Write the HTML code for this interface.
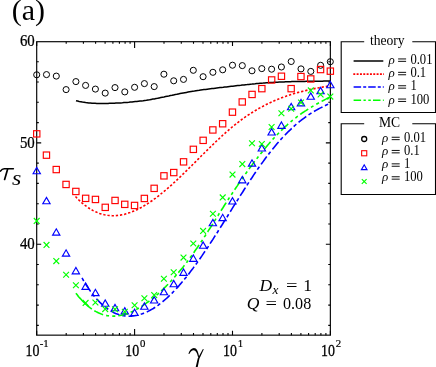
<!DOCTYPE html>
<html><head><meta charset="utf-8"><title>fig</title>
<style>html,body{margin:0;padding:0;background:#fff;}svg{display:block;}text{font-family:"Liberation Serif",serif;fill:#000;}.i{font-style:italic;}</style>
</head><body>
<svg width="436" height="367" viewBox="0 0 436 367">
<rect x="36.7" y="41.7" width="293.65" height="293.45" fill="none" stroke="#000" stroke-width="1.15"/>
<path d="M36.7,335.15 v-4.3 M36.7,41.7 v4.3 M66.2,335.15 v-2.1 M66.2,41.7 v2.1 M83.4,335.15 v-2.1 M83.4,41.7 v2.1 M95.6,335.15 v-2.1 M95.6,41.7 v2.1 M105.1,335.15 v-2.1 M105.1,41.7 v2.1 M112.9,335.15 v-2.1 M112.9,41.7 v2.1 M119.4,335.15 v-2.1 M119.4,41.7 v2.1 M125.1,335.15 v-2.1 M125.1,41.7 v2.1 M130.1,335.15 v-2.1 M130.1,41.7 v2.1 M134.6,335.15 v-6.2 M134.6,41.7 v6.2 M164.0,335.15 v-2.1 M164.0,41.7 v2.1 M181.3,335.15 v-2.1 M181.3,41.7 v2.1 M193.5,335.15 v-2.1 M193.5,41.7 v2.1 M203.0,335.15 v-2.1 M203.0,41.7 v2.1 M210.8,335.15 v-2.1 M210.8,41.7 v2.1 M217.3,335.15 v-2.1 M217.3,41.7 v2.1 M223.0,335.15 v-2.1 M223.0,41.7 v2.1 M228.0,335.15 v-2.1 M228.0,41.7 v2.1 M232.5,335.15 v-4.3 M232.5,41.7 v4.3 M261.9,335.15 v-2.1 M261.9,41.7 v2.1 M279.2,335.15 v-2.1 M279.2,41.7 v2.1 M291.4,335.15 v-2.1 M291.4,41.7 v2.1 M300.9,335.15 v-2.1 M300.9,41.7 v2.1 M308.6,335.15 v-2.1 M308.6,41.7 v2.1 M315.2,335.15 v-2.1 M315.2,41.7 v2.1 M320.9,335.15 v-2.1 M320.9,41.7 v2.1 M325.9,335.15 v-2.1 M325.9,41.7 v2.1 M330.4,335.15 v-4.3 M330.4,41.7 v4.3 M36.7,325.4 h2.1 M330.35,325.4 h-2.1 M36.7,305.1 h2.1 M330.35,305.1 h-2.1 M36.7,284.8 h2.1 M330.35,284.8 h-2.1 M36.7,264.5 h2.1 M330.35,264.5 h-2.1 M36.7,244.2 h4.5 M330.35,244.2 h-4.5 M36.7,224.0 h2.1 M330.35,224.0 h-2.1 M36.7,203.7 h2.1 M330.35,203.7 h-2.1 M36.7,183.4 h2.1 M330.35,183.4 h-2.1 M36.7,163.1 h2.1 M330.35,163.1 h-2.1 M36.7,142.9 h4.5 M330.35,142.9 h-4.5 M36.7,122.6 h2.1 M330.35,122.6 h-2.1 M36.7,102.3 h2.1 M330.35,102.3 h-2.1 M36.7,82.0 h2.1 M330.35,82.0 h-2.1 M36.7,61.8 h2.1 M330.35,61.8 h-2.1" stroke="#000" stroke-width="1.1" fill="none"/>
<g fill="none" stroke-width="1.6" stroke-linejoin="round">
<path d="M76.0,100.7 L77.6,101.1 L79.2,101.5 L80.8,101.8 L82.4,102.1 L84.0,102.3 L85.6,102.6 L87.2,102.7 L88.8,102.9 L90.4,103.0 L92.0,103.2 L93.6,103.2 L95.2,103.3 L96.8,103.4 L98.4,103.4 L100.0,103.4 L101.6,103.4 L103.2,103.4 L104.8,103.4 L106.4,103.4 L108.0,103.4 L109.6,103.3 L111.2,103.3 L112.8,103.2 L114.4,103.2 L116.0,103.1 L117.6,103.0 L119.2,102.9 L120.8,102.9 L122.4,102.8 L124.0,102.6 L125.6,102.5 L127.2,102.4 L128.8,102.3 L130.4,102.1 L132.0,102.0 L133.6,101.8 L135.2,101.6 L136.8,101.5 L138.4,101.3 L140.0,101.1 L141.6,100.9 L143.2,100.7 L144.8,100.4 L146.4,100.2 L148.0,99.9 L149.6,99.7 L151.2,99.4 L152.8,99.1 L154.4,98.9 L156.0,98.6 L157.6,98.3 L159.2,97.9 L160.8,97.6 L162.4,97.3 L164.0,97.0 L165.6,96.6 L167.2,96.3 L168.8,96.0 L170.4,95.6 L172.0,95.3 L173.6,94.9 L175.2,94.6 L176.8,94.3 L178.4,93.9 L180.0,93.6 L181.6,93.3 L183.2,93.0 L184.8,92.7 L186.4,92.4 L188.0,92.1 L189.6,91.8 L191.2,91.5 L192.8,91.2 L194.4,91.0 L196.0,90.7 L197.6,90.5 L199.2,90.3 L200.8,90.0 L202.4,89.8 L204.0,89.6 L205.6,89.4 L207.2,89.2 L208.8,89.0 L210.4,88.8 L212.0,88.6 L213.6,88.4 L215.2,88.2 L216.8,88.0 L218.4,87.8 L220.0,87.6 L221.6,87.4 L223.2,87.3 L224.8,87.1 L226.4,86.9 L228.0,86.7 L229.6,86.5 L231.2,86.3 L232.8,86.2 L234.4,86.0 L236.0,85.8 L237.6,85.6 L239.2,85.4 L240.8,85.3 L242.4,85.1 L244.0,84.9 L245.6,84.7 L247.2,84.6 L248.8,84.4 L250.4,84.2 L252.0,84.1 L253.6,83.9 L255.2,83.8 L256.8,83.6 L258.4,83.5 L260.0,83.3 L261.6,83.2 L263.2,83.1 L264.8,82.9 L266.4,82.8 L268.0,82.7 L269.6,82.6 L271.2,82.5 L272.8,82.4 L274.4,82.3 L276.0,82.2 L277.6,82.2 L279.2,82.1 L280.8,82.0 L282.4,82.0 L284.0,81.9 L285.6,81.8 L287.2,81.8 L288.8,81.7 L290.4,81.7 L292.0,81.6 L293.6,81.6 L295.2,81.6 L296.8,81.5 L298.4,81.5 L300.0,81.5 L301.6,81.4 L303.2,81.4 L304.8,81.4 L306.4,81.3 L308.0,81.3 L309.6,81.3 L311.2,81.3 L312.8,81.3 L314.4,81.2 L316.0,81.2 L317.6,81.2 L319.2,81.2 L320.8,81.2 L322.4,81.2 L324.0,81.1 L325.6,81.1 L327.2,81.1 L328.8,81.1 L330.4,81.1" stroke="#000" stroke-width="1.5"/>
<path d="M75.5,196.5 L77.1,198.2 L78.7,199.8 L80.3,201.3 L81.9,202.8 L83.5,204.1 L85.1,205.4 L86.7,206.6 L88.3,207.7 L89.9,208.7 L91.5,209.7 L93.1,210.6 L94.7,211.4 L96.3,212.1 L97.9,212.8 L99.5,213.4 L101.2,213.9 L102.8,214.3 L104.4,214.7 L106.0,215.0 L107.6,215.3 L109.2,215.5 L110.8,215.6 L112.4,215.7 L114.0,215.7 L115.6,215.6 L117.2,215.5 L118.8,215.3 L120.4,215.1 L122.0,214.8 L123.6,214.5 L125.2,214.1 L126.8,213.6 L128.4,213.1 L130.0,212.6 L131.6,212.0 L133.2,211.3 L134.8,210.7 L136.4,209.9 L138.0,209.2 L139.6,208.3 L141.2,207.5 L142.8,206.6 L144.4,205.6 L146.0,204.7 L147.6,203.7 L149.2,202.6 L150.8,201.5 L152.5,200.4 L154.1,199.2 L155.7,198.1 L157.3,196.9 L158.9,195.6 L160.5,194.3 L162.1,193.0 L163.7,191.7 L165.3,190.4 L166.9,189.0 L168.5,187.6 L170.1,186.2 L171.7,184.8 L173.3,183.3 L174.9,181.8 L176.5,180.3 L178.1,178.8 L179.7,177.3 L181.3,175.8 L182.9,174.2 L184.5,172.7 L186.1,171.1 L187.7,169.5 L189.3,167.9 L190.9,166.4 L192.5,164.8 L194.1,163.2 L195.7,161.6 L197.3,160.0 L198.9,158.4 L200.5,156.7 L202.1,155.1 L203.8,153.5 L205.4,152.0 L207.0,150.4 L208.6,148.8 L210.2,147.2 L211.8,145.6 L213.4,144.1 L215.0,142.5 L216.6,141.0 L218.2,139.5 L219.8,138.0 L221.4,136.5 L223.0,135.0 L224.6,133.6 L226.2,132.2 L227.8,130.8 L229.4,129.4 L231.0,128.0 L232.6,126.7 L234.2,125.4 L235.8,124.1 L237.4,122.8 L239.0,121.6 L240.6,120.4 L242.2,119.2 L243.8,118.1 L245.4,116.9 L247.0,115.8 L248.6,114.8 L250.2,113.7 L251.8,112.7 L253.4,111.7 L255.1,110.7 L256.7,109.8 L258.3,108.8 L259.9,107.9 L261.5,107.0 L263.1,106.2 L264.7,105.3 L266.3,104.5 L267.9,103.7 L269.5,102.9 L271.1,102.2 L272.7,101.5 L274.3,100.8 L275.9,100.1 L277.5,99.4 L279.1,98.8 L280.7,98.1 L282.3,97.5 L283.9,96.9 L285.5,96.4 L287.1,95.8 L288.7,95.3 L290.3,94.8 L291.9,94.3 L293.5,93.8 L295.1,93.3 L296.7,92.8 L298.3,92.4 L299.9,92.0 L301.5,91.6 L303.1,91.2 L304.7,90.8 L306.4,90.4 L308.0,90.0 L309.6,89.6 L311.2,89.3 L312.8,89.0 L314.4,88.6 L316.0,88.3 L317.6,88.0 L319.2,87.7 L320.8,87.4 L322.4,87.1 L324.0,86.8 L325.6,86.5 L327.2,86.2 L328.8,85.9 L330.4,85.7" stroke="#f00" stroke-dasharray="2.3 1.9"/>
<path d="M81.1,276.4 L82.7,279.1 L84.2,281.8 L85.8,284.3 L87.4,286.7 L88.9,289.1 L90.5,291.3 L92.1,293.4 L93.6,295.4 L95.2,297.3 L96.8,299.1 L98.4,300.8 L99.9,302.4 L101.5,303.9 L103.1,305.4 L104.6,306.7 L106.2,307.9 L107.8,309.0 L109.3,310.1 L110.9,311.0 L112.5,311.9 L114.0,312.7 L115.6,313.4 L117.2,314.0 L118.7,314.6 L120.3,315.0 L121.9,315.4 L123.5,315.7 L125.0,315.9 L126.6,316.1 L128.2,316.2 L129.7,316.2 L131.3,316.1 L132.9,316.0 L134.4,315.8 L136.0,315.5 L137.6,315.2 L139.1,314.8 L140.7,314.3 L142.3,313.8 L143.8,313.2 L145.4,312.6 L147.0,311.9 L148.5,311.1 L150.1,310.3 L151.7,309.4 L153.3,308.5 L154.8,307.5 L156.4,306.4 L158.0,305.3 L159.5,304.2 L161.1,303.0 L162.7,301.7 L164.2,300.4 L165.8,299.0 L167.4,297.6 L168.9,296.1 L170.5,294.6 L172.1,293.1 L173.6,291.5 L175.2,289.8 L176.8,288.1 L178.4,286.4 L179.9,284.6 L181.5,282.8 L183.1,281.0 L184.6,279.1 L186.2,277.2 L187.8,275.2 L189.3,273.2 L190.9,271.1 L192.5,269.1 L194.0,266.9 L195.6,264.8 L197.2,262.6 L198.7,260.4 L200.3,258.2 L201.9,255.9 L203.4,253.6 L205.0,251.3 L206.6,249.0 L208.2,246.6 L209.7,244.2 L211.3,241.8 L212.9,239.4 L214.4,236.9 L216.0,234.5 L217.6,232.0 L219.1,229.5 L220.7,227.0 L222.3,224.5 L223.8,222.0 L225.4,219.5 L227.0,217.0 L228.5,214.5 L230.1,212.0 L231.7,209.4 L233.2,206.9 L234.8,204.4 L236.4,201.9 L238.0,199.4 L239.5,196.9 L241.1,194.4 L242.7,192.0 L244.2,189.5 L245.8,187.1 L247.4,184.6 L248.9,182.2 L250.5,179.8 L252.1,177.5 L253.6,175.1 L255.2,172.8 L256.8,170.5 L258.3,168.2 L259.9,166.0 L261.5,163.8 L263.1,161.6 L264.6,159.5 L266.2,157.3 L267.8,155.3 L269.3,153.2 L270.9,151.2 L272.5,149.3 L274.0,147.4 L275.6,145.5 L277.2,143.6 L278.7,141.8 L280.3,140.0 L281.9,138.3 L283.4,136.6 L285.0,135.0 L286.6,133.4 L288.1,131.8 L289.7,130.3 L291.3,128.8 L292.9,127.3 L294.4,125.9 L296.0,124.5 L297.6,123.2 L299.1,121.9 L300.7,120.7 L302.3,119.4 L303.8,118.3 L305.4,117.1 L307.0,116.0 L308.5,114.9 L310.1,113.9 L311.7,112.9 L313.2,111.9 L314.8,111.0 L316.4,110.1 L318.0,109.2 L319.5,108.4 L321.1,107.6 L322.7,106.8 L324.2,106.0 L325.8,105.3 L327.4,104.6 L328.9,104.0 L330.5,103.4" stroke="#00f" stroke-dasharray="9.65 2.75 3.5 2.95" stroke-dashoffset="10.6"/>
<path d="M75.9,293.2 L77.2,294.8 L78.4,296.4 L79.7,297.9 L81.0,299.3 L82.3,300.7 L83.5,302.0 L84.8,303.3 L86.1,304.5 L87.4,305.6 L88.6,306.7 L89.9,307.7 L91.2,308.6 L91.8,309.1" stroke="#0f0"/>
<path d="M91.8,309.1 L93.1,309.9 L94.4,310.7 L95.6,311.4 L96.9,312.1 L98.2,312.7 L99.5,313.3 L100.7,313.8 L102.0,314.3 L103.3,314.7 L104.6,315.0 L105.8,315.3 L107.1,315.6 L108.4,315.8 L109.7,316.0 L110.9,316.1 L112.2,316.1 L113.5,316.1 L114.8,316.1 L116.0,316.0 L117.3,315.9 L118.6,315.7 L119.9,315.5 L121.1,315.3 L122.4,315.0 L123.7,314.7 L125.0,314.3 L126.2,313.9 L127.5,313.5 L128.8,313.0 L130.0,312.5 L131.3,311.9 L132.6,311.4 L133.9,310.7 L135.1,310.1 L136.4,309.4 L137.7,308.7 L139.0,308.0 L140.2,307.2 L141.5,306.4 L142.8,305.6 L144.1,304.7 L145.3,303.8 L146.6,302.9 L147.9,302.0 L149.2,301.1 L150.4,300.1 L151.7,299.1 L153.0,298.1 L154.3,297.0 L155.5,296.0 L156.8,294.9 L158.1,293.8 L159.4,292.6 L160.6,291.5 L161.9,290.3 L163.2,289.1 L164.4,287.8 L165.7,286.6 L167.0,285.3 L168.3,284.0 L169.5,282.6 L170.8,281.3 L172.1,279.9 L173.4,278.5 L174.6,277.1 L175.9,275.6 L177.2,274.1 L178.5,272.6 L179.7,271.1 L181.0,269.5 L182.3,268.0 L183.6,266.4 L184.8,264.7 L186.1,263.1 L187.4,261.4 L188.7,259.7 L189.9,258.0 L191.2,256.2 L192.5,254.4 L193.8,252.7 L195.0,250.8 L196.3,249.0 L197.6,247.2 L198.8,245.3 L200.1,243.4 L201.4,241.5 L202.7,239.6 L203.9,237.6 L205.2,235.7 L206.5,233.7 L207.8,231.7 L209.0,229.7 L210.3,227.7 L211.6,225.7 L212.9,223.7 L214.1,221.6 L215.4,219.6 L216.7,217.6 L218.0,215.6 L219.2,213.5 L220.5,211.5 L221.8,209.5 L223.1,207.5 L224.3,205.5 L225.6,203.5 L226.9,201.5 L228.2,199.5 L229.4,197.6 L230.7,195.6 L232.0,193.7 L233.2,191.8 L234.5,189.9 L235.8,188.0 L237.1,186.1 L238.3,184.2 L239.6,182.3 L240.9,180.5 L242.2,178.7 L243.4,176.8 L244.7,175.0 L246.0,173.2 L247.3,171.4 L248.5,169.7 L249.8,167.9 L251.1,166.2 L252.4,164.5 L253.6,162.8 L254.9,161.1 L256.2,159.4 L257.5,157.8 L258.7,156.1 L260.0,154.5 L261.3,152.9 L262.6,151.4 L263.8,149.8 L265.1,148.3 L266.4,146.7 L267.6,145.2 L268.9,143.8 L270.2,142.3 L271.5,140.8 L272.7,139.4 L274.0,138.0 L275.3,136.7 L276.6,135.3 L277.8,134.0 L279.1,132.7 L280.4,131.4 L281.7,130.1 L282.9,128.9 L284.2,127.6 L285.5,126.4 L286.8,125.3 L288.0,124.1 L289.3,123.0 L290.6,121.9 L291.9,120.8 L293.1,119.8 L294.4,118.8 L295.7,117.8 L296.9,116.8 L298.2,115.9 L299.5,114.9 L300.8,114.0 L302.0,113.1 L303.3,112.3 L304.6,111.4 L305.9,110.6 L307.1,109.8 L308.4,109.0 L309.7,108.2 L311.0,107.4 L312.2,106.6 L313.5,105.9 L314.8,105.2 L316.1,104.4 L317.3,103.7 L318.6,103.0 L319.9,102.3 L321.2,101.6 L322.4,100.9 L323.7,100.3 L325.0,99.6 L326.3,98.9 L327.5,98.2 L328.8,97.6 L330.1,96.9" stroke="#0f0" stroke-dasharray="9.7 3.15 2.9 3.25 3.1 3.0" stroke-dashoffset="22.17"/>
</g>
<g fill="none" stroke-width="1.15">
<circle cx="36.7" cy="74.8" r="3.05" stroke="#000" stroke-width="1.0"/>
<circle cx="46.5" cy="74.6" r="3.05" stroke="#000" stroke-width="1.0"/>
<circle cx="56.3" cy="76.1" r="3.05" stroke="#000" stroke-width="1.0"/>
<circle cx="66.1" cy="89.6" r="3.05" stroke="#000" stroke-width="1.0"/>
<circle cx="75.9" cy="81.6" r="3.05" stroke="#000" stroke-width="1.0"/>
<circle cx="85.6" cy="85.4" r="3.05" stroke="#000" stroke-width="1.0"/>
<circle cx="95.4" cy="89.1" r="3.05" stroke="#000" stroke-width="1.0"/>
<circle cx="105.2" cy="93.1" r="3.05" stroke="#000" stroke-width="1.0"/>
<circle cx="115.0" cy="87.6" r="3.05" stroke="#000" stroke-width="1.0"/>
<circle cx="124.8" cy="91.9" r="3.05" stroke="#000" stroke-width="1.0"/>
<circle cx="134.6" cy="87.3" r="3.05" stroke="#000" stroke-width="1.0"/>
<circle cx="144.4" cy="83.6" r="3.05" stroke="#000" stroke-width="1.0"/>
<circle cx="154.2" cy="86.6" r="3.05" stroke="#000" stroke-width="1.0"/>
<circle cx="163.9" cy="74.2" r="3.05" stroke="#000" stroke-width="1.0"/>
<circle cx="173.7" cy="80.8" r="3.05" stroke="#000" stroke-width="1.0"/>
<circle cx="183.5" cy="79.4" r="3.05" stroke="#000" stroke-width="1.0"/>
<circle cx="193.3" cy="70.3" r="3.05" stroke="#000" stroke-width="1.0"/>
<circle cx="203.1" cy="76.7" r="3.05" stroke="#000" stroke-width="1.0"/>
<circle cx="212.9" cy="72.3" r="3.05" stroke="#000" stroke-width="1.0"/>
<circle cx="222.7" cy="69.8" r="3.05" stroke="#000" stroke-width="1.0"/>
<circle cx="232.5" cy="65.2" r="3.05" stroke="#000" stroke-width="1.0"/>
<circle cx="242.3" cy="65.6" r="3.05" stroke="#000" stroke-width="1.0"/>
<circle cx="252.0" cy="70.8" r="3.05" stroke="#000" stroke-width="1.0"/>
<circle cx="261.8" cy="68.6" r="3.05" stroke="#000" stroke-width="1.0"/>
<circle cx="271.6" cy="69.2" r="3.05" stroke="#000" stroke-width="1.0"/>
<circle cx="281.4" cy="67.0" r="3.05" stroke="#000" stroke-width="1.0"/>
<circle cx="291.2" cy="61.5" r="3.05" stroke="#000" stroke-width="1.0"/>
<circle cx="301.0" cy="68.9" r="3.05" stroke="#000" stroke-width="1.0"/>
<circle cx="310.8" cy="71.4" r="3.05" stroke="#000" stroke-width="1.0"/>
<circle cx="320.6" cy="65.3" r="3.05" stroke="#000" stroke-width="1.0"/>
<circle cx="330.3" cy="61.7" r="3.05" stroke="#000" stroke-width="1.0"/>
<rect x="33.6" y="130.7" width="6.3" height="6.3" stroke="#f00"/>
<rect x="43.3" y="152.0" width="6.3" height="6.3" stroke="#f00"/>
<rect x="53.1" y="166.4" width="6.3" height="6.3" stroke="#f00"/>
<rect x="62.9" y="181.3" width="6.3" height="6.3" stroke="#f00"/>
<rect x="72.7" y="188.3" width="6.3" height="6.3" stroke="#f00"/>
<rect x="82.5" y="195.2" width="6.3" height="6.3" stroke="#f00"/>
<rect x="92.3" y="196.3" width="6.3" height="6.3" stroke="#f00"/>
<rect x="102.1" y="204.2" width="6.3" height="6.3" stroke="#f00"/>
<rect x="111.9" y="197.3" width="6.3" height="6.3" stroke="#f00"/>
<rect x="121.6" y="201.2" width="6.3" height="6.3" stroke="#f00"/>
<rect x="131.4" y="202.3" width="6.3" height="6.3" stroke="#f00"/>
<rect x="141.2" y="195.3" width="6.3" height="6.3" stroke="#f00"/>
<rect x="151.0" y="185.2" width="6.3" height="6.3" stroke="#f00"/>
<rect x="160.8" y="172.7" width="6.3" height="6.3" stroke="#f00"/>
<rect x="170.6" y="169.4" width="6.3" height="6.3" stroke="#f00"/>
<rect x="180.4" y="158.7" width="6.3" height="6.3" stroke="#f00"/>
<rect x="190.2" y="146.2" width="6.3" height="6.3" stroke="#f00"/>
<rect x="200.0" y="137.2" width="6.3" height="6.3" stroke="#f00"/>
<rect x="209.7" y="126.8" width="6.3" height="6.3" stroke="#f00"/>
<rect x="219.5" y="120.6" width="6.3" height="6.3" stroke="#f00"/>
<rect x="229.3" y="109.0" width="6.3" height="6.3" stroke="#f00"/>
<rect x="239.1" y="98.8" width="6.3" height="6.3" stroke="#f00"/>
<rect x="248.9" y="91.3" width="6.3" height="6.3" stroke="#f00"/>
<rect x="258.7" y="85.5" width="6.3" height="6.3" stroke="#f00"/>
<rect x="268.5" y="76.8" width="6.3" height="6.3" stroke="#f00"/>
<rect x="278.3" y="73.1" width="6.3" height="6.3" stroke="#f00"/>
<rect x="288.0" y="85.5" width="6.3" height="6.3" stroke="#f00"/>
<rect x="297.8" y="73.4" width="6.3" height="6.3" stroke="#f00"/>
<rect x="307.6" y="75.8" width="6.3" height="6.3" stroke="#f00"/>
<rect x="317.4" y="66.4" width="6.3" height="6.3" stroke="#f00"/>
<rect x="327.2" y="68.0" width="6.3" height="6.3" stroke="#f00"/>
<path d="M33.1,173.7 L40.4,173.7 L36.7,167.4 Z" stroke="#00f"/>
<path d="M42.8,203.7 L50.1,203.7 L46.5,197.4 Z" stroke="#00f"/>
<path d="M52.6,235.1 L59.9,235.1 L56.3,228.8 Z" stroke="#00f"/>
<path d="M62.4,256.1 L69.7,256.1 L66.1,249.8 Z" stroke="#00f"/>
<path d="M72.2,273.8 L79.5,273.8 L75.9,267.5 Z" stroke="#00f"/>
<path d="M82.0,289.3 L89.3,289.3 L85.6,283.0 Z" stroke="#00f"/>
<path d="M91.8,295.6 L99.1,295.6 L95.4,289.3 Z" stroke="#00f"/>
<path d="M101.6,306.2 L108.9,306.2 L105.2,299.9 Z" stroke="#00f"/>
<path d="M111.4,310.7 L118.7,310.7 L115.0,304.4 Z" stroke="#00f"/>
<path d="M121.1,313.9 L128.4,313.9 L124.8,307.6 Z" stroke="#00f"/>
<path d="M130.9,315.5 L138.2,315.5 L134.6,309.2 Z" stroke="#00f"/>
<path d="M140.7,309.2 L148.0,309.2 L144.4,302.9 Z" stroke="#00f"/>
<path d="M150.5,303.0 L157.8,303.0 L154.2,296.7 Z" stroke="#00f"/>
<path d="M160.3,294.7 L167.6,294.7 L163.9,288.4 Z" stroke="#00f"/>
<path d="M170.1,286.7 L177.4,286.7 L173.7,280.4 Z" stroke="#00f"/>
<path d="M179.9,275.3 L187.2,275.3 L183.5,269.0 Z" stroke="#00f"/>
<path d="M189.7,261.3 L197.0,261.3 L193.3,255.0 Z" stroke="#00f"/>
<path d="M199.5,248.2 L206.8,248.2 L203.1,241.9 Z" stroke="#00f"/>
<path d="M209.2,225.7 L216.5,225.7 L212.9,219.4 Z" stroke="#00f"/>
<path d="M219.0,220.6 L226.3,220.6 L222.7,214.3 Z" stroke="#00f"/>
<path d="M228.8,204.0 L236.1,204.0 L232.5,197.7 Z" stroke="#00f"/>
<path d="M238.6,182.8 L245.9,182.8 L242.3,176.5 Z" stroke="#00f"/>
<path d="M248.4,166.1 L255.7,166.1 L252.0,159.8 Z" stroke="#00f"/>
<path d="M258.2,151.0 L265.5,151.0 L261.8,144.7 Z" stroke="#00f"/>
<path d="M268.0,135.0 L275.3,135.0 L271.6,128.7 Z" stroke="#00f"/>
<path d="M277.8,128.3 L285.1,128.3 L281.4,122.0 Z" stroke="#00f"/>
<path d="M287.5,109.7 L294.8,109.7 L291.2,103.4 Z" stroke="#00f"/>
<path d="M297.3,105.8 L304.6,105.8 L301.0,99.5 Z" stroke="#00f"/>
<path d="M307.1,99.2 L314.4,99.2 L310.8,92.9 Z" stroke="#00f"/>
<path d="M316.9,93.7 L324.2,93.7 L320.6,87.4 Z" stroke="#00f"/>
<path d="M326.7,87.7 L334.0,87.7 L330.3,81.4 Z" stroke="#00f"/>
<path d="M33.8,218.0 L39.6,223.8 M33.8,223.8 L39.6,218.0" stroke="#0f0"/>
<path d="M43.6,242.0 L49.4,247.8 M43.6,247.8 L49.4,242.0" stroke="#0f0"/>
<path d="M53.4,258.2 L59.2,264.0 M53.4,264.0 L59.2,258.2" stroke="#0f0"/>
<path d="M63.2,271.8 L69.0,277.6 M63.2,277.6 L69.0,271.8" stroke="#0f0"/>
<path d="M73.0,282.4 L78.8,288.2 M73.0,288.2 L78.8,282.4" stroke="#0f0"/>
<path d="M82.7,300.0 L88.5,305.8 M82.7,305.8 L88.5,300.0" stroke="#0f0"/>
<path d="M92.5,299.6 L98.3,305.4 M92.5,305.4 L98.3,299.6" stroke="#0f0"/>
<path d="M102.3,306.2 L108.1,312.0 M102.3,312.0 L108.1,306.2" stroke="#0f0"/>
<path d="M112.1,306.3 L117.9,312.1 M112.1,312.1 L117.9,306.3" stroke="#0f0"/>
<path d="M121.9,308.8 L127.7,314.6 M121.9,314.6 L127.7,308.8" stroke="#0f0"/>
<path d="M131.7,302.3 L137.5,308.1 M131.7,308.1 L137.5,302.3" stroke="#0f0"/>
<path d="M141.5,295.3 L147.3,301.1 M141.5,301.1 L147.3,295.3" stroke="#0f0"/>
<path d="M151.3,292.2 L157.1,298.0 M151.3,298.0 L157.1,292.2" stroke="#0f0"/>
<path d="M161.0,275.9 L166.8,281.7 M161.0,281.7 L166.8,275.9" stroke="#0f0"/>
<path d="M170.8,269.4 L176.6,275.2 M170.8,275.2 L176.6,269.4" stroke="#0f0"/>
<path d="M180.6,254.7 L186.4,260.5 M180.6,260.5 L186.4,254.7" stroke="#0f0"/>
<path d="M190.4,240.6 L196.2,246.4 M190.4,246.4 L196.2,240.6" stroke="#0f0"/>
<path d="M200.2,228.0 L206.0,233.8 M200.2,233.8 L206.0,228.0" stroke="#0f0"/>
<path d="M210.0,210.8 L215.8,216.6 M210.0,216.6 L215.8,210.8" stroke="#0f0"/>
<path d="M219.8,194.5 L225.6,200.3 M219.8,200.3 L225.6,194.5" stroke="#0f0"/>
<path d="M229.6,171.7 L235.4,177.5 M229.6,177.5 L235.4,171.7" stroke="#0f0"/>
<path d="M239.4,161.2 L245.2,167.0 M239.4,167.0 L245.2,161.2" stroke="#0f0"/>
<path d="M249.1,140.3 L254.9,146.1 M249.1,146.1 L254.9,140.3" stroke="#0f0"/>
<path d="M258.9,141.1 L264.7,146.9 M258.9,146.9 L264.7,141.1" stroke="#0f0"/>
<path d="M268.7,124.1 L274.5,129.9 M268.7,129.9 L274.5,124.1" stroke="#0f0"/>
<path d="M278.5,110.3 L284.3,116.1 M278.5,116.1 L284.3,110.3" stroke="#0f0"/>
<path d="M288.3,105.9 L294.1,111.7 M288.3,111.7 L294.1,105.9" stroke="#0f0"/>
<path d="M298.1,99.6 L303.9,105.4 M298.1,105.4 L303.9,99.6" stroke="#0f0"/>
<path d="M307.9,87.5 L313.7,93.3 M307.9,93.3 L313.7,87.5" stroke="#0f0"/>
<path d="M317.7,91.6 L323.5,97.4 M317.7,97.4 L323.5,91.6" stroke="#0f0"/>
<path d="M327.4,93.7 L333.2,99.5 M327.4,99.5 L333.2,93.7" stroke="#0f0"/>
</g>
<g fill="none" stroke="#000" stroke-linecap="round">
<path d="M0.5,171.2 Q1.9,168.8 4.2,168.8 L13.4,168.8" stroke-width="1.5"/>
<path d="M7.6,169.2 L4.6,179.5" stroke-width="1.7"/>
</g>
<g fill="#000" stroke="none">
<path d="M188.4,353.7 C189.6,350.2 191.6,348.0 193.9,348.0 C196.6,348.0 198.2,351.2 199.1,356.6 L198.2,357.6 C197.2,353.0 195.8,350.2 193.6,350.2 C191.9,350.2 190.5,351.6 189.3,354.1 Z"/>
<path d="M202.9,349.0 L203.8,349.3 L199.4,358.8 L197.6,367.5 L195.6,367.5 L197.7,358.4 Z"/>
</g>
<g fill="none" stroke="#000" stroke-width="1.1">
<path d="M364.2,41.7 H341.2 V112.5 H435.5 V41.7 H412.3"/>
<path d="M364.2,123.7 H341.2 V194.5 H435.5 V123.7 H412.3"/>
</g>
<g fill="none" stroke-width="1.55">
<path d="M353.6,61.0 H383.3" stroke="#000" stroke-width="1.5"/>
<path d="M353.3,74.05 H384" stroke="#f00" stroke-dasharray="1.95 1.38" stroke-width="1.7"/>
<path d="M353.6,87.05 H383.8" stroke="#00f" stroke-dasharray="7.5 2.1 3 2"/>
<path d="M353.6,100.2 H383.8" stroke="#0f0" stroke-dasharray="7.5 2.4 2.3 2.5 2.5 2.2"/>
</g>
<path d="M398.1,58.95 h8 M398.1,61.35 h8 M398.1,72.35 h8 M398.1,74.75 h8 M398.1,85.75 h8 M398.1,88.15 h8 M398.1,99.05 h8 M398.1,101.45 h8 M391.7,137.25 h8 M391.7,139.65 h8 M391.7,150.45 h8 M391.7,152.85 h8 M391.7,163.85 h8 M391.7,166.25 h8 M391.7,176.75 h8 M391.7,179.15 h8" stroke="#000" stroke-width="0.95" fill="none"/>
<g fill="none" stroke-width="1.15">
<circle cx="364.2" cy="139" r="2.5" stroke="#000" stroke-width="1.3"/>
<rect x="361.65" y="150.7" width="5.1" height="5.1" stroke="#f00" stroke-width="1.1"/>
<path d="M361.4,169.6 L367.0,169.6 L364.2,164.8 Z" stroke="#00f"/>
<path d="M361.8,179.1 L366.6,183.9 M361.8,183.9 L366.6,179.1" stroke="#0f0"/>
</g>
<g style="will-change:transform">
<text transform="translate(34.75,46.3) scale(0.94,1)" font-size="15.8" text-anchor="end" stroke="#000" stroke-width="0.25">60</text>
<text transform="translate(34.75,147.7) scale(0.94,1)" font-size="15.8" text-anchor="end" stroke="#000" stroke-width="0.25">50</text>
<text transform="translate(34.75,249.1) scale(0.94,1)" font-size="15.8" text-anchor="end" stroke="#000" stroke-width="0.25">40</text>
<text transform="translate(25.6,355.9) scale(0.84,1)" font-size="16.6" stroke="#000" stroke-width="0.3">10</text>
<text x="39.7" y="347.4" font-size="10.8" stroke="#000" stroke-width="0.2">-1</text>
<text transform="translate(125.2,355.9) scale(0.84,1)" font-size="16.6" stroke="#000" stroke-width="0.3">10</text>
<text x="139.9" y="347.4" font-size="10.8" stroke="#000" stroke-width="0.2">0</text>
<text transform="translate(223.1,355.9) scale(0.84,1)" font-size="16.6" stroke="#000" stroke-width="0.3">10</text>
<text x="237.8" y="347.4" font-size="10.8" stroke="#000" stroke-width="0.2">1</text>
<text transform="translate(321.0,355.9) scale(0.84,1)" font-size="16.6" stroke="#000" stroke-width="0.3">10</text>
<text x="335.7" y="347.4" font-size="10.8" stroke="#000" stroke-width="0.2">2</text>
<text x="11.8" y="20.4" font-size="30">(a)</text>
<text transform="translate(12.0,184.6) scale(1.14,0.97)" font-size="21" class="i">s</text>
<text x="259.4" y="291.1" font-size="17.5" class="i">D</text>
<text x="272.6" y="293.9" font-size="13.3" class="i">x</text>
<text x="286" y="291.1" font-size="17.5" textLength="11.5" lengthAdjust="spacingAndGlyphs">=</text>
<text x="303.2" y="291.1" font-size="17.5">1</text>
<text x="246.8" y="309.4" font-size="17.5" class="i">Q</text>
<text x="265.4" y="309.4" font-size="17.5" textLength="11.5" lengthAdjust="spacingAndGlyphs">=</text>
<text x="283" y="309.4" font-size="17.5" textLength="28.2" lengthAdjust="spacingAndGlyphs">0.08</text>
<text x="387.3" y="44.9" font-size="13.6" text-anchor="middle">theory</text>
<text x="389.6" y="126.6" font-size="13.6" text-anchor="middle">MC</text>
<text x="388.4" y="63.5" font-size="13" class="i">ρ</text>
<text transform="translate(410.4,63.5) scale(0.87,1)" font-size="14.5">0.01</text>
<text x="388.4" y="76.9" font-size="13" class="i">ρ</text>
<text transform="translate(410.4,76.9) scale(0.87,1)" font-size="14.5">0.1</text>
<text x="388.4" y="90.3" font-size="13" class="i">ρ</text>
<text transform="translate(410.4,90.3) scale(0.87,1)" font-size="14.5">1</text>
<text x="388.4" y="103.6" font-size="13" class="i">ρ</text>
<text transform="translate(410.4,103.6) scale(0.87,1)" font-size="14.5">100</text>
<text x="382.0" y="141.8" font-size="13" class="i">ρ</text>
<text transform="translate(404.0,141.8) scale(0.87,1)" font-size="14.5">0.01</text>
<text x="382.0" y="155.0" font-size="13" class="i">ρ</text>
<text transform="translate(404.0,155.0) scale(0.87,1)" font-size="14.5">0.1</text>
<text x="382.0" y="168.4" font-size="13" class="i">ρ</text>
<text transform="translate(404.0,168.4) scale(0.87,1)" font-size="14.5">1</text>
<text x="382.0" y="181.3" font-size="13" class="i">ρ</text>
<text transform="translate(404.0,181.3) scale(0.87,1)" font-size="14.5">100</text>
</g>
</svg></body></html>
